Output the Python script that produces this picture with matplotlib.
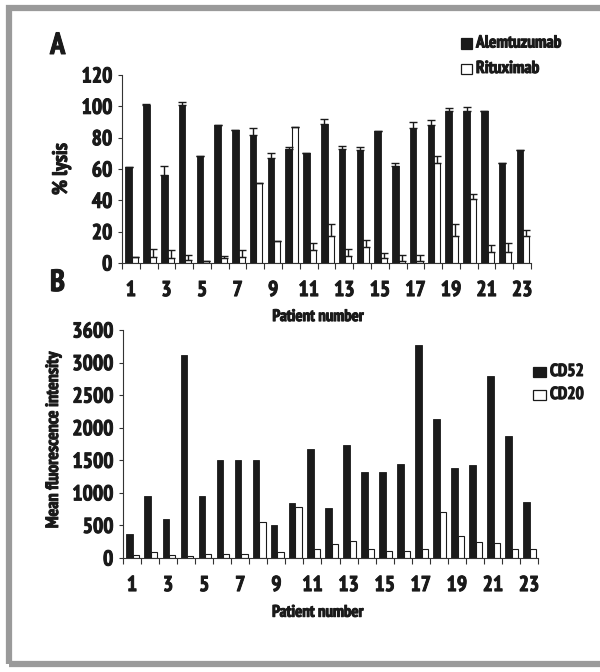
import numpy as np
import matplotlib
matplotlib.use("Agg")
import matplotlib.pyplot as plt
from matplotlib import font_manager
import matplotlib.patheffects as pe
from matplotlib.patches import Rectangle
from matplotlib.ticker import FixedLocator

patients = list(range(1, 24))
alemtuzumab = [61, 101, 56, 101, 68, 88, 85, 82, 67, 73, 70, 89, 73, 72, 84, 62, 86, 88, 97, 97, 97, 64, 72]
alem_err = [0, 0.8, 6, 1.5, 0, 0, 0, 4, 3, 1, 0, 3, 2, 2, 0, 2, 4, 3.5, 2, 2.5, 0, 0, 0]
rituximab = [4, 4, 3, 2, 1.5, 3.5, 4, 51, 14, 87, 8, 17, 4.5, 10, 3, 1.3, 1.3, 64, 17.5, 41, 7, 7, 17]
ritux_err = [0, 5, 5, 3, 0, 0.8, 4.5, 0, 0, 0, 4.5, 8, 4.5, 4.5, 3.5, 4, 4, 4.5, 7.5, 3, 4.5, 5.5, 4]
cd52 = [375, 955, 600, 3120, 955, 1500, 1500, 1500, 500, 850, 1675, 760, 1740, 1320, 1320, 1440, 3270, 2135, 1380, 1425, 2790, 1880, 865]
cd20 = [40, 92, 51, 36, 66, 66, 66, 552, 92, 776, 138, 214, 260, 138, 107, 107, 138, 705, 332, 245, 225, 138, 138]
ticks_a = [0, 20, 40, 60, 80, 100, 120]
ticks_b = [0, 500, 1000, 1500, 2000, 2500, 3000, 3500]
tick_labels_b = ['0', '500', '1000', '1500', '2000', '2500', '3000', '3600']
legend_a = ['Alemtuzumab', 'Rituximab']
legend_b = ['CD52', 'CD20']

# pick a condensed bold font if one is installed
font_path = None
cands = []
for f in font_manager.fontManager.ttflist:
    fn = f.fname.lower()
    if 'bold' in fn and 'italic' not in fn and 'oblique' not in fn:
        if 'narrow' in fn:
            cands.append((0, f.fname))
        elif 'condensed' in fn and 'semi' not in fn:
            cands.append((1, f.fname))
        elif 'semicondensed' in fn:
            cands.append((2, f.fname))
cands.sort()
if cands:
    font_path = cands[0][1]


def fp(size):
    if font_path:
        return font_manager.FontProperties(fname=font_path, size=size)
    return font_manager.FontProperties(family='DejaVu Sans', weight='bold', stretch='condensed', size=size)


INK = '#1a1a1a'
HEAVY = [pe.withStroke(linewidth=0.7, foreground=INK)]

W, H = 600, 672
fig = plt.figure(figsize=(W / 100, H / 100), dpi=100)

# frame
fig.patches.append(Rectangle((9 / W, 8 / H), 1.0, 1 - 16 / H, transform=fig.transFigure,
                             fill=False, edgecolor='#9a9a9a', linewidth=4.5, zorder=0))

x = np.array(patients, dtype=float)
BW1, BW2 = 0.37, 0.34
OFF1, OFF2 = -0.125, 0.23
TICK_FS = 15.5


def style_axis(ax):
    for s in ['top', 'right']:
        ax.spines[s].set_visible(False)
    for s in ['left', 'bottom']:
        ax.spines[s].set_linewidth(0.8)
        ax.spines[s].set_color('#333333')
    ax.set_xlim(0.5, 23.5)
    ax.set_xticks(patients[::2])
    ax.set_xticklabels([str(p) for p in patients[::2]])
    ax.xaxis.set_minor_locator(FixedLocator(np.arange(0.5, 23.6, 1.0)))
    ax.tick_params(axis='x', which='major', length=0, pad=13)
    ax.tick_params(axis='x', which='minor', length=4, width=0.8, direction='out', color='#333333')
    ax.tick_params(axis='y', length=3, width=0.8, pad=4, color='#333333')
    for lab in ax.get_xticklabels() + ax.get_yticklabels():
        lab.set_fontproperties(fp(TICK_FS))
        lab.set_color(INK)
        lab.set_path_effects(HEAVY)


# Panel A
axA = fig.add_axes([122 / W, 1 - 263 / H, (531 - 122) / W, (263 - 75) / H])
axA.bar(x + OFF1, alemtuzumab, width=BW1, color=INK, edgecolor=INK, linewidth=0.6, zorder=2)
axA.bar(x + OFF2, rituximab, width=BW2, color='white', edgecolor=INK, linewidth=0.8, zorder=2)
axA.errorbar(x + OFF1, alemtuzumab, yerr=[np.zeros(23), alem_err], fmt='none', ecolor=INK,
             elinewidth=1.0, capsize=3, capthick=1.0, zorder=3)
axA.errorbar(x + OFF2, rituximab, yerr=[np.zeros(23), ritux_err], fmt='none', ecolor=INK,
             elinewidth=1.0, capsize=3, capthick=1.0, zorder=3)
axA.set_ylim(0, 120)
axA.set_yticks(ticks_a)
style_axis(axA)
axA.set_ylabel('% lysis', fontproperties=fp(15), color=INK, path_effects=HEAVY)
axA.yaxis.set_label_coords(-0.125, 0.5)
axA.set_xlabel('Patient number', fontproperties=fp(12), color=INK, path_effects=HEAVY)
axA.xaxis.set_label_coords(0.479, -0.245)

# Panel B
axB = fig.add_axes([123 / W, 1 - 558 / H, (538 - 123) / W, (558 - 330) / H])
axB.bar(x + OFF1, cd52, width=BW1, color=INK, edgecolor=INK, linewidth=0.6, zorder=2)
axB.bar(x + OFF2, cd20, width=BW2, color='white', edgecolor=INK, linewidth=0.8, zorder=2)
axB.set_ylim(0, 3500)
axB.set_yticks(ticks_b)
axB.set_yticklabels(tick_labels_b)
style_axis(axB)
axB.set_ylabel('Mean fluorescence intensity', fontproperties=fp(12.8), color=INK, path_effects=HEAVY)
axB.yaxis.set_label_coords(-0.147, 0.52)
axB.set_xlabel('Patient number', fontproperties=fp(12), color=INK, path_effects=HEAVY)
axB.xaxis.set_label_coords(0.469, -0.205)

# Panel letters
fig.text(50 / W, 1 - 46 / H, 'A', fontproperties=fp(22), va='center', ha='left', color=INK, path_effects=HEAVY)
fig.text(50 / W, 1 - 283 / H, 'B', fontproperties=fp(22), va='center', ha='left', color=INK, path_effects=HEAVY)


# Legends (drawn in pixel coordinates of the figure)
def legend_entry(x0, y0, w, h, fill, label):
    fig.patches.append(Rectangle((x0 / W, 1 - (y0 + h) / H), w / W, h / H, transform=fig.transFigure,
                                 facecolor=fill, edgecolor=INK, linewidth=0.9))
    fig.text((x0 + w + 4) / W, 1 - (y0 + h / 2) / H, label, fontproperties=fp(12.5),
             va='center', ha='left', color=INK, path_effects=HEAVY)


legend_entry(461, 38, 11, 11, INK, legend_a[0])
legend_entry(461, 64, 11, 10, 'white', legend_a[1])
legend_entry(533, 367, 13, 10, INK, legend_b[0])
legend_entry(533, 390, 13, 10, 'white', legend_b[1])

fig.savefig('out.png', dpi=100)
